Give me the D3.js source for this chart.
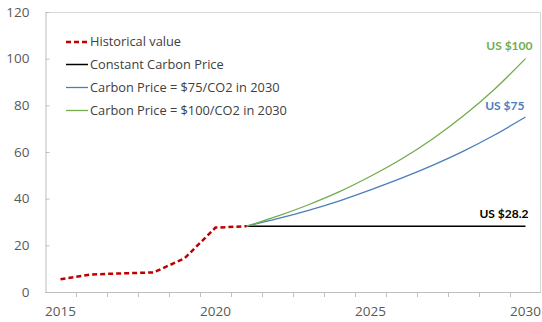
<!DOCTYPE html>
<html>
<head>
<meta charset="utf-8">
<script src="https://cdn.jsdelivr.net/npm/d3@7"></script>
<style>
  html, body { margin: 0; padding: 0; background: #fff; }
  svg { display: block; }
</style>
</head>
<body>
<svg id="chart" width="542" height="322"></svg>
<script>
// Carbon price path (US$ per tonne CO2)
const years = d3.range(2015, 2031);
const yearLabels = [2015, 2020, 2025, 2030];
const yTicks = [0, 20, 40, 60, 80, 100, 120];

const historicalYears = [2015, 2016, 2017, 2018, 2019, 2020, 2021];
const historicalValues = [5.5, 7.5, 8.0, 8.4, 14.4, 27.6, 28.2];

const projectionYears = [2021, 2022, 2023, 2024, 2025, 2026, 2027, 2028, 2029, 2030];
const constantValues = [28.2, 28.2, 28.2, 28.2, 28.2, 28.2, 28.2, 28.2, 28.2, 28.2];
const price75Values = [28.2, 31.4, 35.0, 39.1, 43.8, 48.8, 54.3, 60.4, 67.3, 75.0];
const price100Values = [28.2, 32.5, 37.4, 43.0, 49.6, 57.0, 65.6, 75.5, 86.9, 100.0];

const seriesNames = [
  "Historical value",
  "Constant Carbon Price",
  "Carbon Price = $75/CO2 in 2030",
  "Carbon Price = $100/CO2 in 2030"
];
const endLabels = ["US $28.2", "US $75", "US $100"];

const colors = { hist: "#C00000", constant: "#000000", p75: "#4A7EBB", p100: "#72AC4D" };

const svg = d3.select("#chart");
const margin = { left: 45, right: 1, top: 12, bottom: 30 };
const W = 542, H = 322;

const x = d3.scaleBand().domain(years).range([margin.left, W - margin.right]).padding(0);
const y = d3.scaleLinear().domain([0, 120]).range([H - margin.bottom, margin.top]);
const cx = d => x(d) + x.bandwidth() / 2;

// plot frame (top and right edges)
svg.append("path")
  .attr("d", `M${margin.left},${y(120) + 0.5}H${W - margin.right - 0.5}V${y(0)}`)
  .attr("fill", "none").attr("stroke", "#D9D9D9").attr("stroke-width", 1);

// y axis
const yAxis = d3.axisLeft(y).tickValues(yTicks).tickSizeInner(-4).tickSizeOuter(0).tickPadding(16);
const gy = svg.append("g").attr("transform", `translate(${margin.left + 0.5},0)`).call(yAxis);
gy.select(".domain").attr("stroke", "#BFBFBF");
gy.selectAll(".tick line").attr("stroke", "#BFBFBF");
gy.selectAll(".tick text").attr("fill", "#595959")
  .style("font-family", "'Open Sans', sans-serif").style("font-size", "13.5px");

// x axis: labels every five years, tick marks on category boundaries
const xAxis = d3.axisBottom(x).tickValues(yearLabels).tickSize(0).tickPadding(14);
const gx = svg.append("g").attr("transform", `translate(0,${y(0) + 0.5})`).call(xAxis);
gx.select(".domain").remove();
gx.selectAll(".tick text").attr("fill", "#595959")
  .style("font-family", "'Open Sans', sans-serif").style("font-size", "13.5px");
svg.append("line")
  .attr("x1", margin.left).attr("x2", W - margin.right)
  .attr("y1", y(0) + 0.5).attr("y2", y(0) + 0.5)
  .attr("stroke", "#BFBFBF");
svg.append("g").selectAll("line").data(years.slice(1)).join("line")
  .attr("x1", d => Math.round(x(d)) + 0.5).attr("x2", d => Math.round(x(d)) + 0.5)
  .attr("y1", y(0)).attr("y2", y(0) + 5)
  .attr("stroke", "#BFBFBF");

// series lines
const line = d3.line().x(d => cx(d[0])).y(d => y(d[1]));
const zip = (a, b) => a.map((v, i) => [v, b[i]]);

svg.append("path").datum(zip(projectionYears, constantValues)).attr("d", line)
  .attr("fill", "none").attr("stroke", colors.constant).attr("stroke-width", 1.5);
svg.append("path").datum(zip(projectionYears, price75Values)).attr("d", line.curve(d3.curveMonotoneX))
  .attr("fill", "none").attr("stroke", colors.p75).attr("stroke-width", 1.3);
svg.append("path").datum(zip(projectionYears, price100Values)).attr("d", line.curve(d3.curveMonotoneX))
  .attr("fill", "none").attr("stroke", colors.p100).attr("stroke-width", 1.3);
svg.append("path").datum(zip(historicalYears, historicalValues)).attr("d", line.curve(d3.curveLinear))
  .attr("fill", "none").attr("stroke", colors.hist).attr("stroke-width", 2.5)
  .attr("stroke-dasharray", "5,3");

// end labels
const endX = cx(2030);
const lbl = (txt, val, dx, dy, color) => svg.append("text")
  .attr("x", endX + dx).attr("y", y(val) + dy)
  .attr("text-anchor", "end").attr("fill", color)
  .style("font-family", "Lato, sans-serif").style("font-weight", "bold").style("font-size", "12px")
  .text(txt);
lbl(endLabels[2], price100Values[price100Values.length - 1], 7, -9, colors.p100);
lbl(endLabels[1], price75Values[price75Values.length - 1], -1, -7, colors.p75);
lbl(endLabels[0], constantValues[constantValues.length - 1], 3, -8, "#000");

// legend
const legend = svg.append("g");
const legendStyles = [
  { color: colors.hist, width: 2.5, dash: "5,3" },
  { color: colors.constant, width: 1.5, dash: null },
  { color: colors.p75, width: 1.3, dash: null },
  { color: colors.p100, width: 1.3, dash: null }
];
const legendY = [42, 64.5, 87.5, 110.5];
seriesNames.forEach((name, i) => {
  const s = legendStyles[i];
  legend.append("line")
    .attr("x1", 66).attr("x2", 88).attr("y1", legendY[i]).attr("y2", legendY[i])
    .attr("stroke", s.color).attr("stroke-width", s.width)
    .attr("stroke-dasharray", s.dash);
  legend.append("text")
    .attr("x", 90).attr("y", legendY[i]).attr("dy", "0.35em")
    .attr("fill", "#404040")
    .style("font-family", "'Open Sans', sans-serif").style("font-size", "12.8px")
    .text(name);
});
</script>
</body>
</html>
